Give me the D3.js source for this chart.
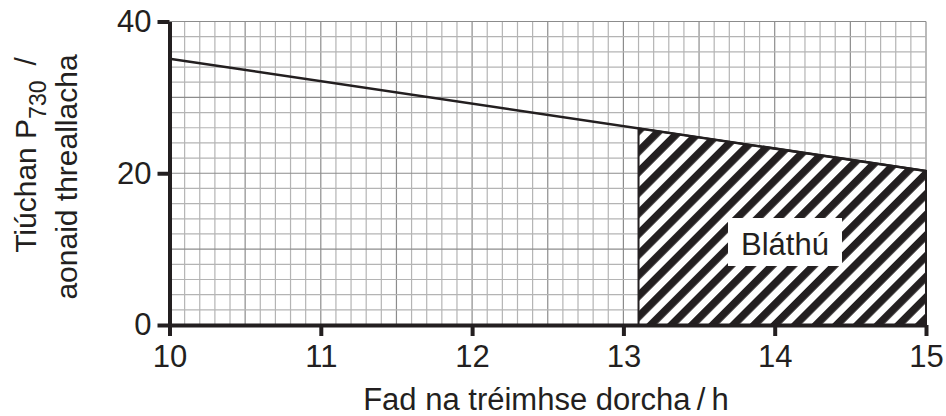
<!DOCTYPE html>
<html lang="en">
<head>
<meta charset="utf-8" />
<title>P730 chart</title>
<style>
  body { margin: 0; background: #fff; }
  text { font-family: "Liberation Sans", Arial, sans-serif; fill: #231f20; }
</style>
</head>
<body>
<div id="chart"></div>
<script src="https://d3js.org/d3.v7.min.js"></script>
<script>
// data
var hours = [10, 15];
var p730 = [35.1, 20.3];
var flowerStart = 13.1;
var xTicks = [10, 11, 12, 13, 14, 15];
var yTicks = [0, 20, 40];
var flowerLabel = "Bláthú";

var width = 946, height = 416;
var ink = "#231f20";

var svg = d3.select("#chart").append("svg")
  .attr("width", width).attr("height", height);

var x = d3.scaleLinear().domain([10, 15]).range([169.5, 926]);
var y = d3.scaleLinear().domain([0, 40]).range([325, 21.5]);

// stripe pattern for the flowering area
var defs = svg.append("defs");
var pat = defs.append("pattern")
  .attr("id", "stripes")
  .attr("patternUnits", "userSpaceOnUse")
  .attr("width", 14.6).attr("height", 14.6)
  .attr("patternTransform", "rotate(45)");
pat.append("rect").attr("width", 14.6).attr("height", 14.6).attr("fill", "#fff");
pat.append("rect").attr("width", 7.6).attr("height", 14.6).attr("fill", ink);

// grid
var grid = svg.append("g");
d3.range(0, 51).forEach(function(i) {
  var v = 10 + i / 10;
  grid.append("line")
    .attr("x1", x(v)).attr("x2", x(v))
    .attr("y1", y(0)).attr("y2", y(40))
    .attr("stroke", i % 5 == 0 ? "#8c8c8c" : "#b4b4b4")
    .attr("stroke-width", 1.2);
});
d3.range(0, 21).forEach(function(i) {
  var v = i * 2;
  grid.append("line")
    .attr("x1", x(10)).attr("x2", x(15))
    .attr("y1", y(v)).attr("y2", y(v))
    .attr("stroke", v % 10 == 0 ? "#8c8c8c" : "#b4b4b4")
    .attr("stroke-width", 1.2);
});

// flowering region
var lineAt = d3.scaleLinear().domain(hours).range(p730);
var region = [[flowerStart, 0], [flowerStart, lineAt(flowerStart)],
              [hours[1], p730[1]], [hours[1], 0]];
svg.append("path")
  .attr("d", d3.line().x(function(d) { return x(d[0]); }).y(function(d) { return y(d[1]); })(region) + "Z")
  .attr("fill", "url(#stripes)")
  .attr("stroke", ink)
  .attr("stroke-width", 2);

// threshold line
svg.append("path")
  .datum(hours.map(function(h, i) { return [h, p730[i]]; }))
  .attr("d", d3.line().x(function(d) { return x(d[0]); }).y(function(d) { return y(d[1]); }))
  .attr("fill", "none")
  .attr("stroke", ink)
  .attr("stroke-width", 2.5);

// label box
svg.append("rect")
  .attr("x", 728).attr("y", 218).attr("width", 114).attr("height", 48)
  .attr("fill", "#fff");
svg.append("text")
  .attr("x", 785).attr("y", 255)
  .attr("text-anchor", "middle")
  .style("font-size", "31px")
  .text(flowerLabel);

// axes
var xAxis = svg.append("g")
  .attr("transform", "translate(0," + y(0) + ")")
  .call(d3.axisBottom(x).tickValues(xTicks).tickFormat(d3.format("d"))
    .tickSize(11).tickSizeOuter(0).tickPadding(9));
var yAxis = svg.append("g")
  .attr("transform", "translate(" + x(10) + ",0)")
  .call(d3.axisLeft(y).tickValues(yTicks).tickFormat(d3.format("d"))
    .tickSize(12).tickSizeOuter(0).tickPadding(6));

[xAxis, yAxis].forEach(function(a) {
  a.select(".domain").attr("stroke", ink).attr("stroke-width", 4);
  a.selectAll(".tick line").attr("stroke", ink).attr("stroke-width", 4);
  a.selectAll(".tick text")
    .style("font-size", "31px")
    .style("font-family", "'Liberation Sans', Arial, sans-serif")
    .attr("fill", ink);
});

// axis titles
svg.append("text")
  .attr("x", 546).attr("y", 410)
  .attr("text-anchor", "middle")
  .style("font-size", "31px")
  .text("Fad na tréimhse dorcha\u2009/\u2009h");

var yt = svg.append("text")
  .attr("transform", "translate(36,155) rotate(-90)")
  .attr("text-anchor", "middle")
  .style("font-size", "30px");
yt.append("tspan").text("Tiúchan P");
yt.append("tspan").attr("dy", 10).style("font-size", "23px").text("730");
yt.append("tspan").attr("dy", -10).text("\u2002/");

svg.append("text")
  .attr("transform", "translate(77,177) rotate(-90)")
  .attr("text-anchor", "middle")
  .style("font-size", "30px")
  .text("aonaid threallacha");
</script>
</body>
</html>
